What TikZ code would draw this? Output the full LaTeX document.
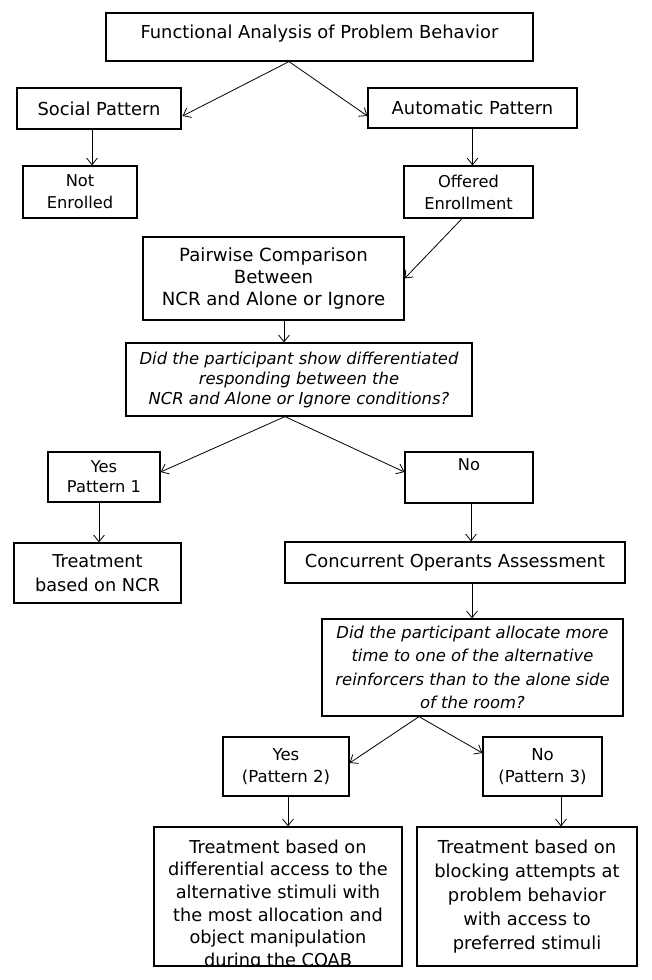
\documentclass[tikz,border=0pt]{standalone}
\usepackage{fontspec}
\setmainfont{DejaVu Sans}
\usetikzlibrary{arrows.meta}
\begin{document}
\begin{tikzpicture}[x=0.75pt,y=-0.75pt,
  box/.style={draw, line width=0.9pt, inner sep=0pt, align=center},
  ftop/.style={font=\fontsize{13.4}{16.5}\selectfont},
  fsm/.style={font=\fontsize{12.2}{16.5}\selectfont},
  fyn/.style={font=\fontsize{12.2}{15}\selectfont},
  fmid/.style={font=\fontsize{13.6}{16.3}\selectfont},
  fncr/.style={font=\fontsize{13.3}{18}\selectfont},
  fyes/.style={font=\fontsize{12.4}{16.5}\selectfont},
  fq1/.style={font=\fontsize{12.3}{15}\selectfont\itshape},
  fq2/.style={font=\fontsize{12.3}{17.5}\selectfont\itshape},
  ftr/.style={font=\fontsize{13.3}{17}\selectfont},
  ftrb/.style={font=\fontsize{13.4}{18}\selectfont},
  arr/.style={-{Straight Barb[length=5pt,width=8pt]}, line width=0.6pt}]
\useasboundingbox (0,0) rectangle (651,980);

\node[box,ftop,minimum width=427*0.75pt,minimum height=48*0.75pt] (func) at (319.5,37) {\raisebox{2.8pt}[\height][\depth]{Functional Analysis of Problem Behavior}};
\node[box,ftop,minimum width=164*0.75pt,minimum height=41*0.75pt] (social) at (99,108.5) {Social Pattern};
\node[box,ftop,minimum width=209*0.75pt,minimum height=40*0.75pt] (auto) at (472.5,108) {Automatic Pattern};
\node[box,fsm,minimum width=114*0.75pt,minimum height=52*0.75pt] (noten) at (80,192) {Not\\Enrolled};
\node[box,fsm,minimum width=129*0.75pt,minimum height=52*0.75pt] (offer) at (468.5,192) {Offered\\Enrollment};
\node[box,fmid,minimum width=261*0.75pt,minimum height=83*0.75pt] (pair) at (273.5,278.5) {Pairwise Comparison\\Between\\NCR and Alone or Ignore};
\node[box,fq1,minimum width=346*0.75pt,minimum height=73*0.75pt] (did1) at (299,379.5) {Did the participant show differentiated\\responding between the\\NCR and Alone or Ignore conditions?};
\node[box,fyn,minimum width=112*0.75pt,minimum height=50*0.75pt] (yes1) at (104,477) {Yes\\Pattern 1};
\node[box,fyn,minimum width=128*0.75pt,minimum height=51*0.75pt] (no1) at (469,477.5) {No\\\strut};
\node[box,fncr,minimum width=167*0.75pt,minimum height=60*0.75pt] (treatncr) at (97.5,573) {Treatment\\based on NCR};
\node[box,ftop,minimum width=340*0.75pt,minimum height=41*0.75pt] (coa) at (455,562.5) {Concurrent Operants Assessment};
\node[box,fq2,minimum width=301*0.75pt,minimum height=97*0.75pt] (did2) at (472.5,667.5) {Did the participant allocate more\\time to one of the alternative\\reinforcers than to the alone side\\of the room?};
\node[box,fyes,minimum width=126*0.75pt,minimum height=59*0.75pt] (yes2) at (286,766.5) {Yes\\(Pattern 2)};
\node[box,fyes,minimum width=119*0.75pt,minimum height=59*0.75pt] (no3) at (542.5,766.5) {No\\(Pattern 3)};
\begin{scope}
\clip (152,825) rectangle (404,966.6);
\node[box,ftr,minimum width=248*0.75pt,minimum height=139*0.75pt] (treat2) at (278,896.5) {\raisebox{32.6pt}[0pt][0pt]{\begin{tabular}[t]{@{}c@{}}Treatment based on\\differential access to the\\alternative stimuli with\\the most allocation and\\object manipulation\\during the COAB\end{tabular}}};
\end{scope}
\node[box,ftrb,minimum width=220*0.75pt,minimum height=139*0.75pt] (treat3) at (527,896.5) {Treatment based on\\blocking attempts at\\problem behavior\\with access to\\preferred stimuli};

\draw[arr] ([shift={(-30.5,0)}]func.south) -- ([shift={(1,7.5)}]social.east);
\draw[arr] ([shift={(-30.5,0)}]func.south) -- ([shift={(0,8)}]auto.west);
\draw[arr] ([shift={(-7,0)}]social.south) -- ([shift={(12,0)}]noten.north);
\draw[arr] (auto.south) -- (auto.south |- offer.north);
\draw[arr] ([shift={(-6.5,0)}]offer.south) -- (pair.east);
\draw[arr] ([shift={(10.5,0)}]pair.south) -- ([shift={(-15,0)}]did1.north);
\draw[arr] ([shift={(-14,0)}]did1.south) -- ([shift={(0,-5)}]yes1.east);
\draw[arr] ([shift={(-14,0)}]did1.south) -- ([shift={(0,-5.5)}]no1.west);
\draw[arr] ([shift={(-5,0)}]yes1.south) -- ([shift={(1.5,0)}]treatncr.north);
\draw[arr] ([shift={(2,0)}]no1.south) -- ([shift={(16,0)}]coa.north);
\draw[arr] ([shift={(17,0)}]coa.south) -- ([shift={(-0.5,0)}]did2.north);
\draw[arr] ([shift={(-53.5,0)}]did2.south) -- ([shift={(0,-3.5)}]yes2.east);
\draw[arr] ([shift={(-53.5,0)}]did2.south) -- ([shift={(0,-13.5)}]no3.west);
\draw[arr] ([shift={(2,0)}]yes2.south) -- ([shift={(10,0)}]treat2.north);
\draw[arr] ([shift={(18.5,0)}]no3.south) -- ([shift={(34,0)}]treat3.north);
\end{tikzpicture}
\end{document}
